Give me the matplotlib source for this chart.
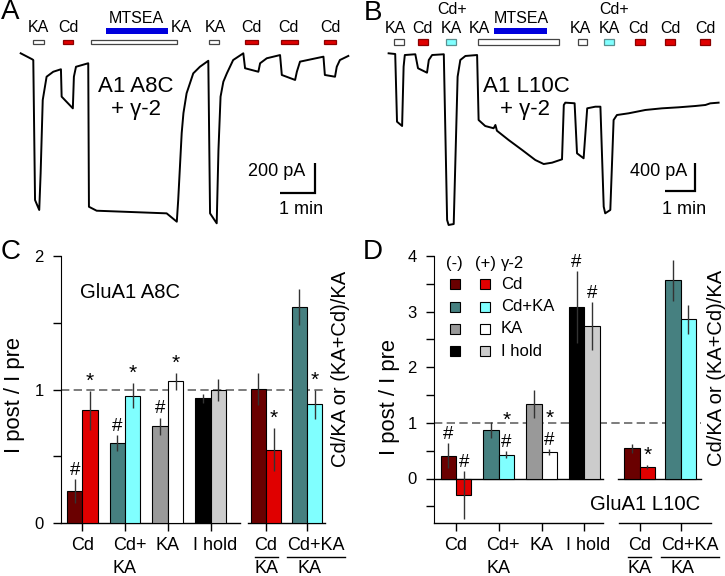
import matplotlib
matplotlib.use("Agg")
import matplotlib.pyplot as plt
from matplotlib.patches import Rectangle

plt.rcParams['font.family'] = ['Liberation Sans', 'DejaVu Sans']

W, H = 725, 576

# ---------------- data ----------------
# panel A trace: time (min), current (pA, relative to baseline)
a_t = [0.02, 0.35, 0.38, 0.43, 0.55, 0.59, 0.65, 0.76, 0.95, 1.17, 1.19, 1.51, 1.54, 1.60, 1.95,
       1.97, 2.19, 4.19, 4.48, 4.52, 4.62, 4.67, 4.76, 4.95, 5.14, 5.38, 5.43, 5.62, 5.67, 5.73,
       5.81, 5.91, 6.09, 6.38, 6.43, 6.81, 6.86, 7.05, 7.43, 7.48, 7.86, 7.91, 8.0, 8.67, 8.71,
       9.0, 9.05, 9.14, 9.38]
a_i = [-2, -43, -48, -1004, -1072, -820, -321, -162, -128, -111, -298, -378, -162, -94, -70,
       -1050, -1077, -1095, -1152, -1004, -546, -410, -275, -139, -94, -53, -1095, -1163, -663, -298,
       -196, -139, -48, -2, -104, -128, -70, -36, -14, -150, -184, -128, -59, -25, -150,
       -162, -94, -48, -20]
a_ka = [(0.38, 0.69), (2.02, 4.49), (5.41, 5.69)]
a_cd = [(1.24, 1.52), (6.43, 6.81), (7.46, 7.95), (8.69, 9.02)]
a_cdka = []
a_mtsea = (2.45, 4.22)

# panel B trace
b_t = [0.02, 0.24, 0.30, 0.47, 0.52, 0.56, 0.91, 1.00, 1.30, 1.36, 1.47, 1.86, 1.97, 2.02, 2.19,
       2.27, 2.32, 2.41, 2.58, 2.97, 3.02, 3.24, 3.52, 3.58, 3.63, 4.02, 4.47, 4.91, 5.19, 5.47,
       5.80, 5.86, 5.91, 6.22, 6.30, 6.52, 6.64, 6.91, 7.08, 7.19, 7.24, 7.41, 7.52, 7.63, 8.02,
       8.58, 9.13, 9.69, 10.24, 10.58, 10.74, 11.02]
b_i = [10, 0, -992, -1055, -186, -15, -4, -209, -274, -88, -15, -4, -2432, -2505, -2491,
       -1162, -333, -88, -29, -15, -967, -1055, -1088, -1040, -1124, -1260, -1406, -1553, -1612, -1592,
       -1543, -747, -713, -722, -1455, -1528, -796, -772, -772, -2237, -2334, -2285, -967, -894, -869,
       -820, -796, -781, -762, -747, -723, -713]
b_ka = [(0.19, 0.52), (3.0, 5.71), (6.32, 6.63)]
b_cd = [(1.0, 1.32), (8.22, 8.56), (9.24, 9.58), (10.41, 10.74)]
b_cdka = [(1.93, 2.28), (7.19, 7.52)]
b_mtsea = (3.52, 5.3)

# bar panels: Cd, Cd+KA, KA, I hold, Cd/KA, (Cd+KA)/KA ; (-) and (+) gamma-2
c_minus = [0.24, 0.60, 0.725, 0.935, 1.005, 1.615]
c_minus_err = [0.09, 0.06, 0.065, 0.035, 0.12, 0.135]
c_plus = [0.845, 0.955, 1.06, 0.995, 0.55, 0.89]
c_plus_err = [0.145, 0.09, 0.065, 0.08, 0.16, 0.11]
c_minus_marks = ['#', '#', '#', '', '', '']
c_plus_marks = ['*', '*', '*', '', '*', '*']

d_minus = [0.41, 0.87, 1.34, 3.08, 0.54, 3.56]
d_minus_err = [0.23, 0.14, 0.26, 0.65, 0.08, 0.37]
d_plus = [-0.29, 0.43, 0.48, 2.74, 0.21, 2.86]
d_plus_err = [0.43, 0.07, 0.05, 0.43, 0.04, 0.26]
d_minus_marks = ['#', '', '', '#', '', '']
d_plus_marks = ['#', '#*', '#*', '#', '*', '']

legend_labels = ['Cd', 'Cd+KA', 'KA', 'I hold']

DRED, RED = '#6a0000', '#e00000'
TEAL, CYAN = '#468080', '#80ffff'
GRAY, LGRAY = '#999999', '#cccccc'
BLUE = '#0000dd'
minus_cols = [DRED, TEAL, GRAY, 'black', DRED, TEAL]
plus_cols = [RED, CYAN, 'white', LGRAY, RED, CYAN]
POS = [1, 2, 3, 4, 5.3, 6.26]
BW = 0.36

fig = plt.figure(figsize=(W / 100, H / 100), dpi=100)


def fx(x):
    return x / W


def fy(y):
    return 1 - y / H


def px_axes(x0, y0, x1, y1):
    return fig.add_axes([fx(x0), fy(y1), (x1 - x0) / W, (y1 - y0) / H])


def ftext(x, y, s, size, **kw):
    kw.setdefault('ha', 'center')
    kw.setdefault('va', 'center')
    fig.text(fx(x), fy(y), s, fontsize=size, **kw)


# ---------------- traces ----------------
def trace_panel(box, xlim, ylim, t, cur, ka, cd, cdka, mtsea, bar_y, mt_y, scale):
    ax = px_axes(*box)
    ax.set_xlim(xlim)
    ax.set_ylim(ylim)
    ax.axis('off')
    ax.plot(t, cur, color='black', lw=1.4)
    tr = ax.get_xaxis_transform()
    for spans, fc, ec in [(ka, 'white', '#444444'), (cd, RED, '#8a0000'), (cdka, CYAN, '#5a9090')]:
        for t0, t1 in spans:
            ax.add_patch(Rectangle((t0, bar_y[0]), t1 - t0, bar_y[1], transform=tr,
                                   fc=fc, ec=ec, lw=0.9, clip_on=False))
    ax.add_patch(Rectangle((mtsea[0], mt_y[0]), mtsea[1] - mtsea[0], mt_y[1], transform=tr,
                           fc=BLUE, ec='none', clip_on=False))
    sx, sy, dt, di = scale
    ax.plot([sx - dt, sx, sx], [sy, sy, sy + di], color='black', lw=1.6,
            solid_joinstyle='miter', solid_capstyle='butt')
    return ax


trace_panel((0, 0, 362, 240), (-0.571, 9.771), (-1277, 362), a_t, a_i, a_ka, a_cd, a_cdka, a_mtsea,
            (0.8154, 0.0179), (0.8583, 0.025), (8.43, -954, 1, 200))
trace_panel((362, 0, 725, 240), (-0.867, 11.233), (-2725, 791), b_t, b_i, b_ka, b_cd, b_cdka, b_mtsea,
            (0.8125, 0.0238), (0.857, 0.025), (10.24, -2003, 1, 400))

for s, x, y in [('KA', 38.3, 28), ('Cd', 68.3, 28), ('MTSEA', 136.7, 18.7), ('KA', 181.7, 28),
                ('KA', 215, 28), ('Cd', 251.7, 28), ('Cd', 288.3, 28), ('Cd', 330, 28),
                ('KA', 395.3, 28.3), ('Cd', 422, 28.3), ('Cd+', 452, 10), ('KA', 451.3, 28.3),
                ('KA', 479.3, 28.3), ('MTSEA', 521.3, 18.3), ('KA', 580.3, 28.3), ('Cd+', 613.7, 10),
                ('KA', 609.3, 28.3), ('Cd', 638.7, 28.3), ('Cd', 670.3, 28.3), ('Cd', 705.3, 28.3)]:
    ftext(x, y, s, 11.5)

ftext(136, 86, 'A1 A8C', 16)
ftext(136, 110, '+ γ-2', 16)
ftext(305, 171, '200 pA', 13, ha='right')
ftext(301, 209, '1 min', 13)
ftext(526, 86, 'A1 L10C', 16)
ftext(525, 110, '+ γ-2', 16)
ftext(687, 172, '400 pA', 13, ha='right')
ftext(684, 210, '1 min', 13)

for s, x, y in [('A', 1, 12), ('B', 364, 13), ('C', 1, 252), ('D', 363, 252)]:
    ftext(x, y, s, 20, ha='left')


# ---------------- bar charts ----------------
def bar_panel(ax, ylim, minus, minus_err, plus, plus_err, minus_marks, plus_marks,
              base_segs, zero_segs, dash_end):
    ax.set_ylim(ylim)
    for s in ['top', 'right', 'bottom']:
        ax.spines[s].set_visible(False)
    x0 = ax.get_xlim()[0]
    xm = [p - BW / 2 for p in POS]
    xp = [p + BW / 2 for p in POS]
    ax.plot([x0, dash_end], [1, 1], color='#666666', lw=1.2, ls=(0, (5, 2.6)), zorder=1)
    ax.bar(xm, minus, BW, color=minus_cols, edgecolor='black', lw=0.8, zorder=3)
    ax.bar(xp, plus, BW, color=plus_cols, edgecolor='black', lw=0.8, zorder=3)
    ax.errorbar(xm, minus, yerr=minus_err, fmt='none', ecolor='#333333', elinewidth=1, capsize=0, zorder=4)
    ax.errorbar(xp, plus, yerr=plus_err, fmt='none', ecolor='#333333', elinewidth=1, capsize=0, zorder=4)
    for seg in base_segs:
        ax.plot(seg, [ylim[0], ylim[0]], color='black', lw=1, clip_on=False, zorder=2)
    for seg in zero_segs:
        ax.plot(seg, [0, 0], color='black', lw=1, clip_on=False, zorder=2)
    for xs, vals, errs, marks in [(xm, minus, minus_err, minus_marks), (xp, plus, plus_err, plus_marks)]:
        for x, v, e, m in zip(xs, vals, errs, marks):
            for k, ch in enumerate(m):
                ax.annotate(ch, (x, v + e), xytext=(0, 3 + 15 * k), textcoords='offset points',
                            ha='center', va='baseline', fontsize=13.5 if ch == '#' else 15,
                            zorder=5, annotation_clip=False)
    ax.set_xticks(POS)
    ax.set_xticklabels([''] * len(POS))
    ax.tick_params(axis='x', direction='out', length=5.5, width=1)
    ax.tick_params(axis='y', which='both', direction='out', length=5.5, width=1, pad=7, labelsize=12)
    tr = ax.get_xaxis_transform()
    l1, l2, ul = -0.086, -0.172, -0.128
    ax.text(POS[0], l1, 'Cd', transform=tr, ha='center', va='center', fontsize=13)
    ax.text(POS[1] - 0.29, l1, 'Cd+', transform=tr, ha='left', va='center', fontsize=13)
    ax.text(POS[1] - 0.29, l2, 'KA', transform=tr, ha='left', va='center', fontsize=13)
    ax.text(POS[2], l1, 'KA', transform=tr, ha='center', va='center', fontsize=13)
    ax.text(POS[3] + 0.1, l1, 'I hold', transform=tr, ha='center', va='center', fontsize=13)
    ax.text(POS[4], l1, 'Cd', transform=tr, ha='center', va='center', fontsize=13)
    ax.text(POS[4], l2, 'KA', transform=tr, ha='center', va='center', fontsize=13)
    ax.plot([POS[4] - 0.27, POS[4] + 0.27], [ul, ul], transform=tr, color='black', lw=1, clip_on=False)
    ax.text(POS[5] + 0.21, l1, 'Cd+KA', transform=tr, ha='center', va='center', fontsize=13)
    ax.text(POS[5] + 0.05, l2, 'KA', transform=tr, ha='center', va='center', fontsize=13)
    ax.plot([POS[5] - 0.47, POS[5] + 0.89], [ul, ul], transform=tr, color='black', lw=1, clip_on=False)


axC = px_axes(61, 256, 343, 523)
axC.set_xlim(0.5, 7.1)
bar_panel(axC, (0, 2), c_minus, c_minus_err, c_plus, c_plus_err, c_minus_marks, c_plus_marks,
          [(0.5, 4.69), (4.88, 6.69)], [], 6.69)
axC.set_yticks([0, 1, 2])
axC.set_yticks([0.5, 1.5], minor=True)

axD = px_axes(434, 256, 716, 523)
axD.set_xlim(0.484, 7.084)
bar_panel(axD, (-0.8, 4), d_minus, d_minus_err, d_plus, d_plus_err, d_minus_marks, d_plus_marks,
          [(0.484, 4.44), (4.82, 6.97)], [(0.484, 4.44), (4.78, 6.73)], 6.73)
axD.set_yticks([0, 1, 2, 3, 4])
axD.set_yticks([-0.5, 0.5, 1.5, 2.5, 3.5], minor=True)

ftext(15, 395, 'I post / I pre', 15.8, rotation=90)
ftext(390, 397, 'I post / I pre', 15.8, rotation=90)
ftext(340, 369, 'Cd/KA or (KA+Cd)/KA', 14.5, rotation=90)
ftext(717, 368, 'Cd/KA or (KA+Cd)/KA', 14.5, rotation=90)
ftext(80, 292, 'GluA1 A8C', 14.6, ha='left')
ftext(645, 505, 'GluA1 L10C', 14.6)

# legend of panel D
ftext(454.3, 264, '(-)', 12)
ftext(485, 264, '(+)', 12)
ftext(501, 264, 'γ-2', 12, ha='left')
for k, lab in enumerate(legend_labels):
    yy = 284.3 + 22.3 * k
    for xx, col in [(455, minus_cols[k]), (485, plus_cols[k])]:
        fig.patches.append(Rectangle((fx(xx - 5), fy(yy + 5)), 10 / W, 10 / H, transform=fig.transFigure,
                                     fc=col, ec='black', lw=0.8))
    ftext(501, yy, lab, 12, ha='left')

fig.savefig('out.png', dpi=100)
